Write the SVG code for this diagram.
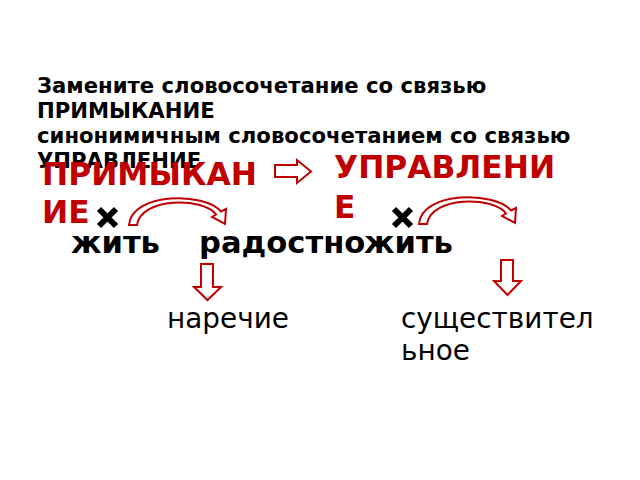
<svg xmlns="http://www.w3.org/2000/svg" width="640" height="480" viewBox="0 0 640 480">
<style>
.title{font-family:"DejaVu Sans",sans-serif;font-weight:bold;font-size:21.2px;fill:#000}
.red{font-family:"DejaVu Sans",sans-serif;font-weight:bold;font-size:31.3px;fill:#c00000}
.word{font-family:"DejaVu Sans",sans-serif;font-weight:bold;font-size:30.6px;fill:#000}
.label{font-family:"DejaVu Sans",sans-serif;font-size:27.9px;fill:#000}
.arr{fill:#fff;stroke:#c00000;stroke-width:2;stroke-linejoin:miter}
.cross{stroke:#000;stroke-width:6;fill:none}
</style>
<defs>
<path id="curved" d="M129,225 C132,192 205,192 221,211.5 L226,209 L225,224 L212,217 L216,214.5 C203,197 141,197 137,225 Z"/>
</defs>
<rect width="640" height="480" fill="#fff"/>
<g id="title">
<text class="title" x="37" y="93">Замените словосочетание со связью</text>
<text class="title" x="37" y="118">ПРИМЫКАНИЕ</text>
<text class="title" x="37" y="143">синонимичным словосочетанием со связью</text>
<text class="title" x="37" y="168">УПРАВЛЕНИЕ</text>
</g>
<g id="primykanie">
<text class="red" x="42" y="185">ПРИМЫКАН</text>
<text class="red" x="42" y="223">ИЕ</text>
</g>
<g id="upravlenie">
<text class="red" x="334" y="178">УПРАВЛЕНИ</text>
<text class="red" x="334" y="218">Е</text>
</g>
<g id="phrase">
<text class="word" x="71" y="253">жить</text>
<text class="word" x="199" y="253">радостно</text>
<text class="word" x="364" y="253">жить</text>
</g>
<g id="cross1"><path class="cross" d="M99,209 L116,226 M116,209 L99,226"/></g>
<g id="cross2"><path class="cross" d="M394,209 L411,226 M411,209 L394,226"/></g>
<g id="narechie"><text class="label" x="167" y="328">наречие</text></g>
<g id="sushch">
<text class="label" x="401" y="328">существител</text>
<text class="label" x="401" y="360">ьное</text>
</g>
<g id="connectors">
<path class="arr" d="M275,165 L297,165 L297,160 L311,171.5 L297,183 L297,177 L275,177 Z"/>
<use href="#curved" class="arr"/>
<use href="#curved" class="arr" transform="translate(290,-1)"/>
<path class="arr" d="M201,264 L213,264 L213,287 L221,287 L207.5,300 L194,287 L201,287 Z"/>
<path class="arr" d="M501,260 L513,260 L513,281 L521,281 L507.5,295 L494,281 L501,281 Z"/>
</g>
</svg>
